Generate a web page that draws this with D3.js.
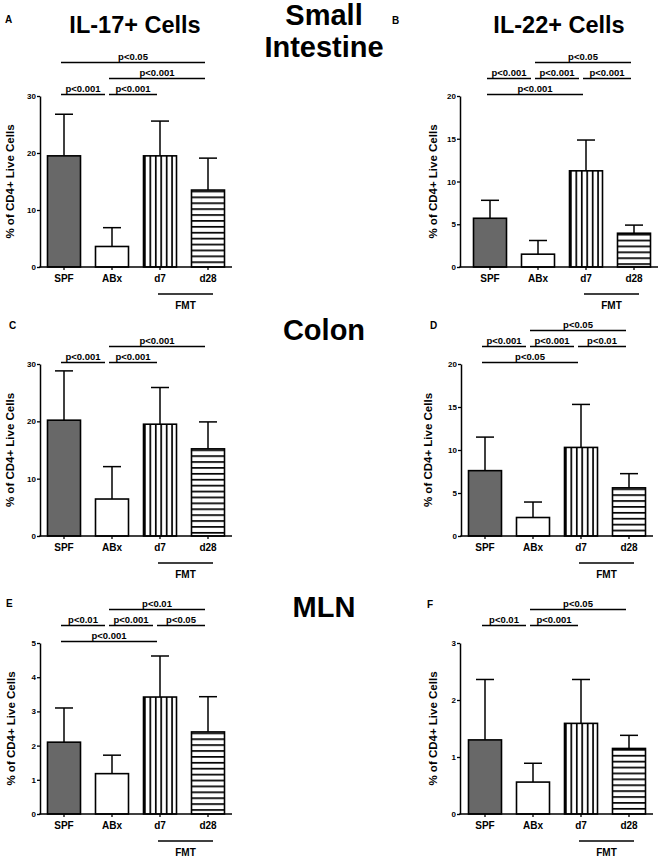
<!DOCTYPE html>
<html><head><meta charset="utf-8">
<script src="https://cdn.jsdelivr.net/npm/d3@7"></script>
<style>
body{margin:0;background:#fff}
svg{display:block}
text{font-family:"Liberation Sans",Arial,Helvetica,sans-serif;font-weight:bold;fill:#000}
</style>
</head><body>
<svg id="c" width="661" height="858"></svg>
<script>
// ---------- DATA ----------
const groups = ["SPF", "ABx", "d7", "d28"];
const yTitle = "% of CD4+ Live Cells";
const fmtLabel = "FMT";

// A: IL-17+ small intestine
const il17SIMean = [19.5, 3.6, 19.5, 13.5];
const il17SISD   = [7.3, 3.3, 6.1, 5.6];
const il17SITicks = [0, 10, 20, 30];
const il17SISig = [["SPF","ABx","p<0.001",0],["ABx","d7","p<0.001",0],["ABx","d28","p<0.001",1],["SPF","d28","p<0.05",2]];

// B: IL-22+ small intestine
const il22SIMean = [5.7, 1.5, 11.25, 3.95];
const il22SISD   = [2.1, 1.6, 3.6, 0.95];
const il22SITicks = [0, 5, 10, 15, 20];
const il22SISig = [["SPF","d7","p<0.001",0],["SPF","ABx","p<0.001",1],["ABx","d7","p<0.001",1],["d7","d28","p<0.001",1],["ABx","d28","p<0.05",2]];

// C: IL-17+ colon
const il17CoMean = [20.2, 6.45, 19.5, 15.2];
const il17CoSD   = [8.6, 5.65, 6.4, 4.7];
const il17CoTicks = [0, 10, 20, 30];
const il17CoSig = [["SPF","ABx","p<0.001",0],["ABx","d7","p<0.001",0],["ABx","d28","p<0.001",1]];

// D: IL-22+ colon
const il22CoMean = [7.6, 2.15, 10.3, 5.6];
const il22CoSD   = [3.9, 1.8, 5.0, 1.65];
const il22CoTicks = [0, 5, 10, 15, 20];
const il22CoSig = [["SPF","d7","p<0.05",0],["SPF","ABx","p<0.001",1],["ABx","d7","p<0.001",1],["d7","d28","p<0.01",1],["ABx","d28","p<0.05",2]];

// E: IL-17+ MLN
const il17MLNMean = [2.1, 1.18, 3.42, 2.4];
const il17MLNSD   = [1.0, 0.54, 1.2, 1.03];
const il17MLNTicks = [0, 1, 2, 3, 4, 5];
const il17MLNSig = [["SPF","d7","p<0.001",0],["SPF","ABx","p<0.01",1],["ABx","d7","p<0.001",1],["d7","d28","p<0.05",1],["ABx","d28","p<0.01",2]];

// F: IL-22+ MLN
const il22MLNMean = [1.3, 0.56, 1.59, 1.15];
const il22MLNSD   = [1.06, 0.33, 0.77, 0.23];
const il22MLNTicks = [0, 1, 2, 3];
const il22MLNSig = [["SPF","ABx","p<0.01",1],["ABx","d7","p<0.001",1],["ABx","d28","p<0.05",2]];

const colTitles = ["IL-17+ Cells", "IL-22+ Cells"];
const rowTitles = [["Small", "Intestine"], ["Colon"], ["MLN"]];
const panelLetters = ["A","B","C","D","E","F"];

// ---------- LAYOUT ----------
const panels = [
  {mean: il17SIMean, sd: il17SISD, ticks: il17SITicks, sig: il17SISig, axisX: 40, band: [40, 232], axisY: 267, top: 96, ytx: 10, lx: 5, ly: 23},
  {mean: il22SIMean, sd: il22SISD, ticks: il22SITicks, sig: il22SISig, axisX: 460, band: [466, 658], axisY: 267, top: 96, ytx: 433, lx: 392, ly: 24},
  {mean: il17CoMean, sd: il17CoSD, ticks: il17CoTicks, sig: il17CoSig, axisX: 40, band: [40, 232], axisY: 536, top: 364, ytx: 10, lx: 9, ly: 329},
  {mean: il22CoMean, sd: il22CoSD, ticks: il22CoTicks, sig: il22CoSig, axisX: 461, band: [461, 653], axisY: 536, top: 364, ytx: 428, lx: 430, ly: 329},
  {mean: il17MLNMean, sd: il17MLNSD, ticks: il17MLNTicks, sig: il17MLNSig, axisX: 40, band: [40, 232], axisY: 814, top: 643, ytx: 11, lx: 6, ly: 607},
  {mean: il22MLNMean, sd: il22MLNSD, ticks: il22MLNTicks, sig: il22MLNSig, axisX: 460, band: [461, 653], axisY: 814, top: 643, ytx: 433, lx: 427, ly: 608}
];

const svg = d3.select("#c");
const defs = svg.append("defs");
const FONT = '"Liberation Sans",Arial,sans-serif';

panels.forEach((p, pi) => {
  const x = d3.scaleBand().domain(groups).range(p.band).paddingInner(0.3125).paddingOuter(0.15625);
  const y = d3.scaleLinear().domain([0, d3.max(p.ticks)]).range([p.axisY, p.top]);
  const bw = x.bandwidth();
  const cx = d => x(d) + bw / 2;
  const g = svg.append("g");

  // patterns
  const vp = defs.append("pattern").attr("id", "v" + pi).attr("patternUnits", "userSpaceOnUse")
    .attr("x", x("d7") + 0.5).attr("y", 0).attr("width", 5.45).attr("height", 10);
  vp.append("rect").attr("width", 5.45).attr("height", 10).attr("fill", "#fff");
  vp.append("rect").attr("width", 1.7).attr("height", 10).attr("fill", "#000");
  const hTop = y(p.mean[3]);
  const hp = defs.append("pattern").attr("id", "h" + pi).attr("patternUnits", "userSpaceOnUse")
    .attr("x", 0).attr("y", hTop + 0.5).attr("width", 10).attr("height", 5.9);
  hp.append("rect").attr("width", 10).attr("height", 5.9).attr("fill", "#fff");
  hp.append("rect").attr("width", 10).attr("height", 1.7).attr("fill", "#000");

  const fills = ["#686868", "#fff", `url(#v${pi})`, `url(#h${pi})`];

  // error bars (upper only)
  const eb = g.selectAll(".eb").data(groups).join("g");
  eb.append("line").attr("x1", cx).attr("x2", cx)
    .attr("y1", (d, i) => y(p.mean[i])).attr("y2", (d, i) => y(p.mean[i] + p.sd[i]))
    .attr("stroke", "#000").attr("stroke-width", 1.5);
  eb.append("line").attr("x1", d => cx(d) - 9).attr("x2", d => cx(d) + 9)
    .attr("y1", (d, i) => y(p.mean[i] + p.sd[i])).attr("y2", (d, i) => y(p.mean[i] + p.sd[i]))
    .attr("stroke", "#000").attr("stroke-width", 1.5);

  // bars
  g.selectAll(".bar").data(groups).join("rect")
    .attr("x", d => x(d)).attr("width", bw)
    .attr("y", (d, i) => y(p.mean[i])).attr("height", (d, i) => y(0) - y(p.mean[i]))
    .attr("fill", (d, i) => fills[i]).attr("stroke", "#000").attr("stroke-width", 1.6);

  // y axis
  const ya = g.append("g").attr("transform", `translate(${p.axisX},0)`)
    .call(d3.axisLeft(y).tickValues(p.ticks).tickFormat(d3.format("d")).tickSize(3).tickSizeOuter(0).tickPadding(1));
  ya.select(".domain").attr("stroke-width", 1.5);
  ya.selectAll(".tick line").attr("stroke-width", 1.3);
  ya.selectAll("text").style("font-size", "8px").style("font-weight", "bold").style("font-family", FONT);

  // x axis
  const xa = g.append("g").attr("transform", `translate(0,${p.axisY})`)
    .call(d3.axisBottom(x).tickSize(3).tickSizeOuter(0).tickPadding(5));
  xa.select(".domain").remove();
  xa.selectAll(".tick line").attr("stroke-width", 1.3);
  xa.selectAll("text").style("font-size", "10px").style("font-weight", "bold").style("font-family", FONT);
  g.append("line").attr("x1", p.axisX - 0.75).attr("x2", p.band[1]).attr("y1", p.axisY).attr("y2", p.axisY)
    .attr("stroke", "#000").attr("stroke-width", 1.5);

  // FMT bracket
  const f1 = cx("d7") - 2, f2 = cx("d28") + 5;
  g.append("line").attr("x1", f1).attr("x2", f2).attr("y1", p.axisY + 27).attr("y2", p.axisY + 27)
    .attr("stroke", "#000").attr("stroke-width", 1.3);
  g.append("text").attr("x", (f1 + f2) / 2).attr("y", p.axisY + 42).attr("text-anchor", "middle")
    .style("font-size", "10px").text(fmtLabel);

  // y title
  g.append("text").attr("transform", `translate(${p.ytx},${(p.axisY + p.top) / 2}) rotate(-90)`)
    .attr("text-anchor", "middle").attr("dominant-baseline", "central")
    .style("font-size", "11.5px").text(yTitle);

  // significance lines
  p.sig.forEach(s => {
    const [a, b, lab, lev] = s;
    const ly = p.top - 1.5 - 16 * lev;
    const shared = p.sig.some(o => o[3] === lev && o[0] === b);
    const x1 = cx(a) - 3, x2 = cx(b) - (shared ? 7 : 3);
    g.append("line").attr("x1", x1).attr("x2", x2).attr("y1", ly).attr("y2", ly)
      .attr("stroke", "#000").attr("stroke-width", 1.4);
    g.append("text").attr("x", (x1 + x2) / 2).attr("y", ly - 3).attr("text-anchor", "middle")
      .style("font-size", "9.5px").text(lab);
  });

  // panel letter
  svg.append("text").attr("x", p.lx).attr("y", p.ly).style("font-size", "10px").text(panelLetters[pi]);
});

// column titles
svg.append("text").attr("x", 135).attr("y", 33).attr("text-anchor", "middle").style("font-size", "23.5px").text(colTitles[0]);
svg.append("text").attr("x", 559).attr("y", 33).attr("text-anchor", "middle").style("font-size", "23.5px").text(colTitles[1]);

// row titles
const rowBase = [[25, 57], [340], [617]];
rowTitles.forEach((lines, ri) => {
  lines.forEach((t, li) => {
    svg.append("text").attr("x", 324).attr("y", rowBase[ri][li]).attr("text-anchor", "middle")
      .style("font-size", "29px").text(t);
  });
});
</script>
</body></html>
